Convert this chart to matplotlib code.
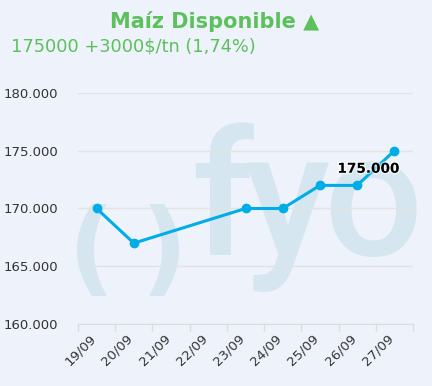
import matplotlib
matplotlib.use("Agg")
import matplotlib.pyplot as plt
import matplotlib.patheffects as pe
from matplotlib.transforms import ScaledTranslation
import numpy as np
from matplotlib.ticker import FuncFormatter, FixedLocator

categories = ["19/09", "20/09", "21/09", "22/09", "23/09", "24/09", "25/09", "26/09", "27/09"]
values = [170000, 167000, None, None, 170000, 170000, 172000, 172000, 175000]
title = "Maíz Disponible ▲"
subtitle = "175000 +3000$/tn (1,74%)"
last_label = "175.000"
y_ticks = [160000, 165000, 170000, 175000, 180000]

W, H = 432, 386
DPI = 100
bg = "#eef2fa"
fig = plt.figure(figsize=(W / DPI, H / DPI), dpi=DPI, facecolor=bg)

def fx(px):
    return px / W

def fy(py):
    return 1 - py / H

left, right, top, bottom = 78, 413, 93, 324
ax = fig.add_axes([fx(left), fy(bottom), fx(right - left), (bottom - top) / H])
ax.set_facecolor(bg)

# watermark (logo)
wm = "#d5e6f0"
def wtext(px, py, s, size, weight="normal", va="baseline", family="Roboto"):
    ax.text(fx(px), fy(py), s, fontsize=size, color=wm, ha="center", va=va,
            family=[family, "DejaVu Sans"], fontweight=weight, transform=fig.transFigure,
            zorder=0.1, clip_on=False)

wtext(222, 255, "f", 126, "medium")
wtext(287, 255, "y", 126, "medium")
wtext(373, 255, "o", 126, "medium")
wtext(91, 254, "(", 74, "bold", "center", "DejaVu Sans")
wtext(164, 254, ")", 74, "bold", "center", "DejaVu Sans")

x = np.arange(len(categories))
xs = [i for i, v in zip(x, values) if v is not None]
ys = [v for v in values if v is not None]
ax.plot(xs, ys, color="#00ade6", lw=2.2, marker="o", ms=6, zorder=3, clip_on=False)

ax.annotate(last_label, (xs[-1], ys[-1]), xytext=(-26, -18), textcoords="offset pixels",
            ha="center", va="center", fontsize=9.8, fontweight="bold", color="black",
            family="DejaVu Sans", zorder=4,
            path_effects=[pe.withStroke(linewidth=2, foreground="white", alpha=0.6)])

ax.set_xlim(-0.5, len(categories) - 0.5)
ax.set_ylim(160000, 180000)
ax.yaxis.set_major_locator(FixedLocator(y_ticks))
ax.yaxis.set_major_formatter(FuncFormatter(lambda v, p: f"{int(v):,}".replace(",", ".")))
ax.grid(axis="y", color="#e3e3e3", lw=1)
ax.set_axisbelow(True)

ax.set_xticks(x)
ax.set_xticklabels(categories, rotation=45, ha="right", va="center", rotation_mode="anchor",
                   fontsize=9.5, color="#333333")
ax.set_xticks(np.arange(-0.5, len(categories), 1), minor=True)
ax.tick_params(axis="x", which="major", length=0, pad=9)
ax.tick_params(axis="x", which="minor", length=5, color="#dcdcdc", width=1)
ax.tick_params(axis="y", length=0, labelsize=9.5, labelcolor="#333333", pad=14)
for lab in ax.get_xticklabels():
    lab.set_transform(lab.get_transform() + ScaledTranslation(-3 / DPI, 0, fig.dpi_scale_trans))

for s in ["top", "right", "left"]:
    ax.spines[s].set_visible(False)
ax.spines["bottom"].set_color("#dcdcdc")

fig.text(fx(215), fy(21), title, ha="center", va="center", fontsize=15, fontweight="bold",
         color="#5cc15c", family="DejaVu Sans")
fig.text(fx(11), fy(47), subtitle, ha="left", va="center", fontsize=12.8, color="#5cc15c",
         family="DejaVu Sans")

fig.savefig("out.png", dpi=DPI, facecolor=bg)
